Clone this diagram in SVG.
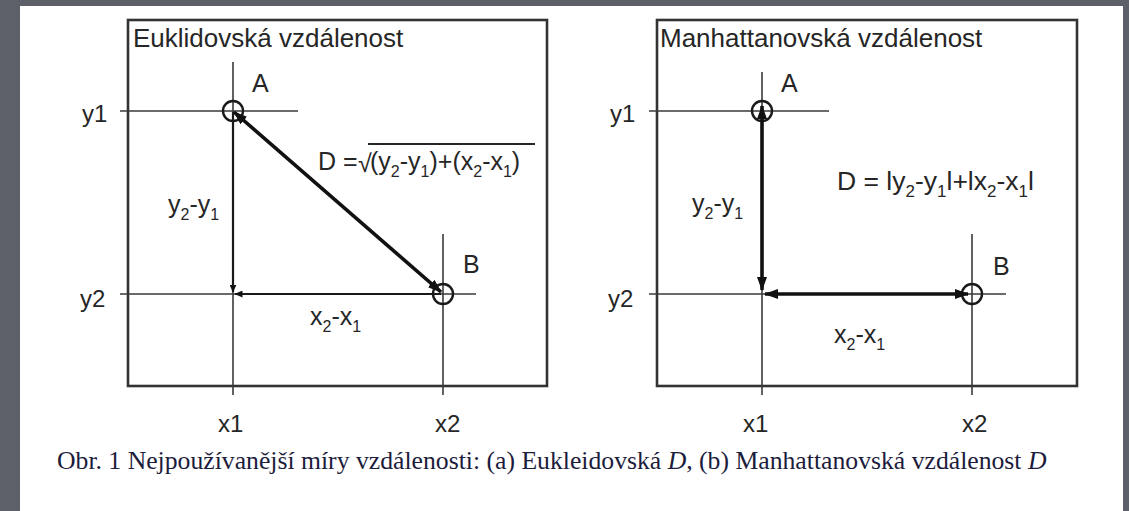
<svg xmlns="http://www.w3.org/2000/svg" width="1129" height="511" viewBox="0 0 1129 511">
<style>
.t{font-family:"Liberation Sans",Arial,sans-serif;fill:#262626}
.title{font-size:26px}
.lab{font-size:24px}
.pt{font-size:25px}
.f{font-size:25px}
.f2{font-size:26.5px}
.sub{font-size:16px}
.sub2{font-size:17px}
.ax{stroke:#3a3a3a;stroke-width:1.6;fill:none}
.box{stroke:#333;stroke-width:2.6;fill:#fff}
.pc{stroke:#1a1a1a;stroke-width:2.4;fill:none}
.thick{stroke:#111;stroke-width:3.6;fill:none}
.med{stroke:#1a1a1a;stroke-width:2.2;fill:none}
.cap{font-family:"Liberation Serif","Times New Roman",serif;font-size:25.7px;fill:#1c1c3c}
</style>
<defs>
<marker id="ab" viewBox="0 0 14 10" refX="13" refY="5" markerWidth="14" markerHeight="10" markerUnits="userSpaceOnUse" orient="auto-start-reverse">
<path d="M0,0 L14,5 L0,10 z" fill="#111"/>
</marker>
<marker id="as" viewBox="0 0 8 7" refX="7.5" refY="3.5" markerWidth="8" markerHeight="7" markerUnits="userSpaceOnUse" orient="auto-start-reverse">
<path d="M0,0 L8,3.5 L0,7 z" fill="#111"/>
</marker>
</defs>
<rect x="0" y="0" width="1129" height="511" fill="#5d6069"/>
<rect x="20" y="6" width="1103" height="505" fill="#fff"/>

<g id="panel-euclid">
<rect class="box" x="128" y="20" width="419" height="366"/>
<text class="t title" x="133" y="47">Euklidovská vzdálenost</text>
<line class="ax" x1="233" y1="62" x2="233" y2="395"/>
<line class="ax" x1="443" y1="234" x2="443" y2="395"/>
<line class="ax" x1="120" y1="111" x2="298" y2="111"/>
<line class="ax" x1="120" y1="294" x2="476" y2="294"/>
<text class="t lab" x="82" y="122">y1</text>
<text class="t lab" x="80" y="307">y2</text>
<text class="t lab" x="218" y="432">x1</text>
<text class="t lab" x="435" y="432">x2</text>
<text class="t pt" x="252" y="92">A</text>
<text class="t pt" x="463" y="273">B</text>
<text class="t f" x="318" y="170">D =</text>
<text class="t f" x="358" y="172">√</text>
<line x1="368" y1="144" x2="535" y2="144" stroke="#262626" stroke-width="1.8"/>
<text class="t f" x="370" y="170">(y<tspan class="sub" dy="7">2</tspan><tspan dy="-7">-y</tspan><tspan class="sub" dy="7">1</tspan><tspan dy="-7">)+(x</tspan><tspan class="sub" dy="7">2</tspan><tspan dy="-7">-x</tspan><tspan class="sub" dy="7">1</tspan><tspan dy="-7">)</tspan></text>
<text class="t f" x="168" y="213">y<tspan class="sub" dy="7">2</tspan><tspan dy="-7">-y</tspan><tspan class="sub" dy="7">1</tspan></text>
<text class="t f" x="310" y="325">x<tspan class="sub" dy="7">2</tspan><tspan dy="-7">-x</tspan><tspan class="sub" dy="7">1</tspan></text>
<circle class="pc" cx="233" cy="111" r="10"/>
<circle class="pc" cx="443" cy="294" r="10"/>
</g>

<g id="panel-manhattan">
<rect class="box" x="657" y="20" width="420" height="366"/>
<text class="t title" x="660" y="47">Manhattanovská vzdálenost</text>
<line class="ax" x1="762" y1="72" x2="762" y2="395"/>
<line class="ax" x1="972" y1="234" x2="972" y2="395"/>
<line class="ax" x1="649" y1="111" x2="829" y2="111"/>
<line class="ax" x1="649" y1="294" x2="1006" y2="294"/>
<text class="t lab" x="610" y="122">y1</text>
<text class="t lab" x="608" y="307">y2</text>
<text class="t lab" x="743" y="432">x1</text>
<text class="t lab" x="962" y="432">x2</text>
<text class="t pt" x="781" y="92">A</text>
<text class="t pt" x="993" y="275">B</text>
<text class="t f2" x="837" y="190">D = ly<tspan class="sub2" dy="7">2</tspan><tspan dy="-7">-y</tspan><tspan class="sub2" dy="7">1</tspan><tspan dy="-7">l+lx</tspan><tspan class="sub2" dy="7">2</tspan><tspan dy="-7">-x</tspan><tspan class="sub2" dy="7">1</tspan><tspan dy="-7">l</tspan></text>
<text class="t f" x="692" y="212">y<tspan class="sub" dy="7">2</tspan><tspan dy="-7">-y</tspan><tspan class="sub" dy="7">1</tspan></text>
<text class="t f" x="834" y="343">x<tspan class="sub" dy="7">2</tspan><tspan dy="-7">-x</tspan><tspan class="sub" dy="7">1</tspan></text>
<circle class="pc" cx="762" cy="111" r="10"/>
<circle class="pc" cx="972" cy="294" r="10"/>
</g>

<g id="connectors">
<line class="thick" x1="234" y1="112" x2="441" y2="292" marker-start="url(#ab)" marker-end="url(#ab)"/>
<line class="med" x1="233" y1="112" x2="233" y2="292" marker-end="url(#as)"/>
<line class="med" x1="441" y1="294" x2="235" y2="294" marker-end="url(#as)"/>
<line class="thick" x1="762" y1="106" x2="762" y2="290" marker-start="url(#ab)" marker-end="url(#ab)"/>
<line class="thick" x1="765" y1="294" x2="968" y2="294" marker-start="url(#ab)" marker-end="url(#ab)"/>
</g>

<text class="cap" x="57" y="469">Obr. 1 Nejpoužívanější míry vzdálenosti: (a) Eukleidovská <tspan font-style="italic">D</tspan>, (b) Manhattanovská vzdálenost <tspan font-style="italic">D</tspan></text>
</svg>
